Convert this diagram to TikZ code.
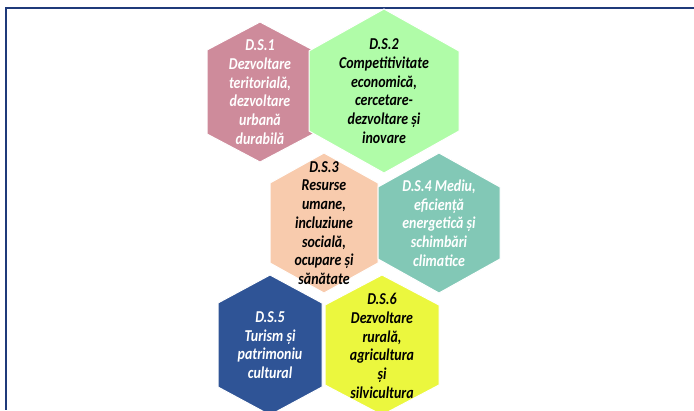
\documentclass[tikz,border=0pt]{standalone}
\usepackage{fontspec}
\setmainfont{Carlito}
\newfontfamily\cellfont[FakeStretch=0.84]{Carlito}
\usetikzlibrary{calc}

\definecolor{dsrose}{HTML}{CE8B9B}
\definecolor{dsgreen}{HTML}{B0FCA8}
\definecolor{dspeach}{HTML}{F8CBAD}
\definecolor{dsteal}{HTML}{82C8B6}
\definecolor{dsblue}{HTML}{2F5496}
\definecolor{dsyellow}{HTML}{EBF73E}
\definecolor{dsframe}{HTML}{1F3A7A}

% fill, centre x, centre y, half width, half height, slant
\newcommand{\hexcell}[6]{%
  \filldraw[#1, draw=white, line width=1pt]
    (#2,#3-#5) -- (#2+#4,#3-#5+#6) -- (#2+#4,#3+#5-#6) -- (#2,#3+#5)
    -- (#2-#4,#3+#5-#6) -- (#2-#4,#3-#5+#6) -- cycle;}

\begin{document}
\begin{tikzpicture}[
    x=1pt, y=-1pt,
    cell/.style={align=center, inner sep=0pt,
                 font=\cellfont\fontsize{16.6}{18.7}\selectfont\bfseries\itshape},
    light/.style={cell, text=white},
    dark/.style={cell, text=black},
    frame/.style={draw=dsframe, line width=2pt},
]
\useasboundingbox (0,0) rectangle (694,410);

% Frame
\draw[frame] (694,8) -- (6,8) -- (6,410);

% Row 1
\hexcell{dsrose}{260}{92}{53}{70}{28}
\hexcell{dsgreen}{384}{91}{75}{82}{42}
\node[light] (ds1) at (260,92) {D.S.1\\Dezvoltare\\teritorială,\\dezvoltare\\urbană\\durabilă};
\node[dark]  (ds2) at (384,91) {D.S.2\\Competitivitate\\economică,\\cercetare-\\dezvoltare și\\inovare};

% Row 2
\hexcell{dspeach}{324}{223}{54}{70}{30}
\hexcell{dsteal}{439}{223}{61}{70}{34}
\node[dark]  (ds3) at (324,223) {D.S.3\\Resurse\\umane,\\incluziune\\socială,\\ocupare și\\sănătate};
\node[light] (ds4) at (439,223) {D.S.4 Mediu,\\eficiență\\energetică și\\schimbări\\climatice};

% Row 3
\hexcell{dsblue}{270}{345}{52}{70}{28}
\hexcell{dsyellow}{382}{345}{57}{70}{30}
\node[light] (ds5) at (270,345) {D.S.5\\Turism și\\patrimoniu\\cultural};
\node[dark]  (ds6) at (382,346) {D.S.6\\Dezvoltare\\rurală,\\agricultura\\și\\silvicultura};

\end{tikzpicture}
\end{document}
